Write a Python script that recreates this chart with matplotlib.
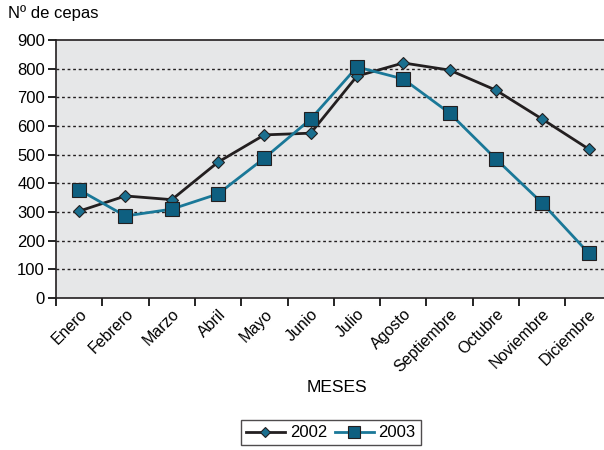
import matplotlib.pyplot as plt
import numpy as np

meses = ['Enero', 'Febrero', 'Marzo', 'Abril', 'Mayo', 'Junio', 'Julio',
         'Agosto', 'Septiembre', 'Octubre', 'Noviembre', 'Diciembre']
cepas_2002 = [303, 356, 343, 474, 569, 575, 774, 820, 795, 725, 624, 520]
cepas_2003 = [377, 286, 310, 363, 488, 624, 806, 764, 645, 485, 331, 157]

plt.rcParams['font.family'] = ['Liberation Sans', 'DejaVu Sans']

fig = plt.figure(figsize=(6.04, 4.5), dpi=100)
ax = fig.add_axes([0.0927, 0.3378, 0.92, 0.5733])
ax.set_facecolor('#e6e7e8')

x = np.arange(len(meses))
ax.plot(x, cepas_2002, color='#231f20', lw=2, marker='D', ms=6,
        mfc='#1a6f8f', mec='#231f20', mew=0.8, label='2002')
ax.plot(x, cepas_2003, color='#1a7898', lw=2, marker='s', ms=10,
        mfc='#0e5f80', mec='#231f20', mew=0.8, label='2003')

ax.set_xlim(-0.5, 11.5)
ax.set_ylim(0, 900)
ax.set_yticks(range(0, 901, 100))
for v in range(100, 900, 100):
    ax.axhline(v, color='#231f20', ls=(0, (2, 2)), lw=1, zorder=0)

# ticks at category boundaries, labels at centres
ax.set_xticks(np.arange(-0.5, 12, 1))
ax.set_xticklabels([])
ax.set_xticks(x, minor=True)
ax.set_xticklabels(meses, minor=True, rotation=45, ha='right',
                   rotation_mode='anchor', fontsize=11.5)
ax.tick_params(axis='x', which='minor', length=0, pad=6)
ax.tick_params(axis='x', which='major', length=6, width=1.2, direction='out')
ax.tick_params(axis='y', length=6, width=1.2, direction='out', labelsize=12, pad=2)

for s in ['left', 'bottom', 'top']:
    ax.spines[s].set_color('#231f20')
    ax.spines[s].set_linewidth(1.2)
ax.spines['right'].set_visible(False)

fig.text(0.013, 0.972, 'Nº de cepas', fontsize=12, va='center', ha='left')
fig.text(0.558, 0.138, 'MESES', fontsize=12.5, ha='center', va='center')

fig.legend(loc='center', bbox_to_anchor=(0.548, 0.038), ncol=2, fontsize=12,
           frameon=True, fancybox=False, edgecolor='#231f20', handlelength=2.3,
           columnspacing=0.5, handletextpad=0.3, borderpad=0.3,
           markerscale=0.8)

fig.savefig('out.png', dpi=100)
